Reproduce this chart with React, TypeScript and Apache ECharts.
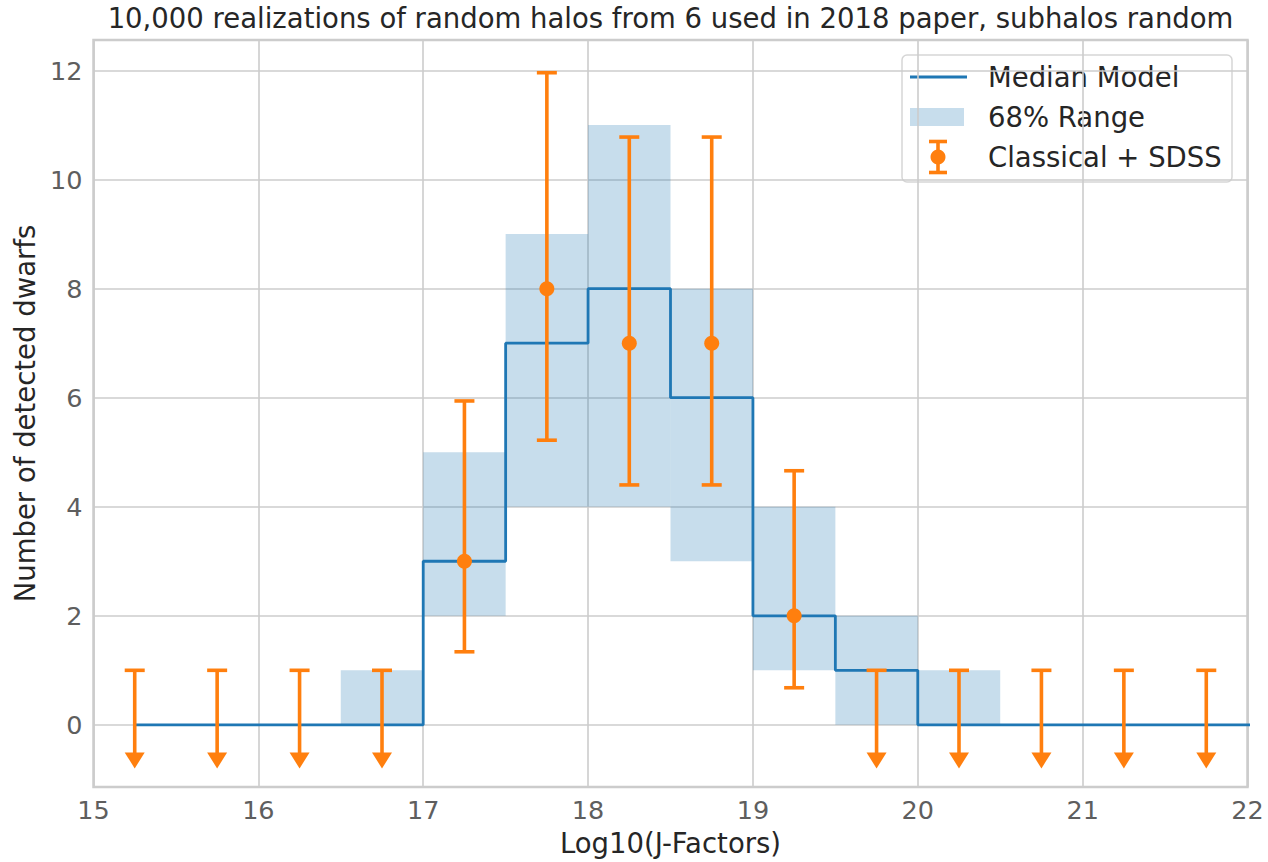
import React, { useEffect, useRef } from "react";
import * as echarts from "echarts";

const titleText =
  "10,000 realizations of random halos from 6 used in 2018 paper, subhalos random";
const xAxisName = "Log10(J-Factors)";
const yAxisName = "Number of detected dwarfs";

const binEdges = [15, 15.5, 16, 16.5, 17, 17.5, 18, 18.5, 19, 19.5, 20, 20.5, 21, 21.5, 22];
const medianCounts = [0, 0, 0, 0, 3, 7, 8, 6, 2, 1, 0, 0, 0, 0];
const rangeLow = [0, 0, 0, 0, 2, 4, 4, 3, 1, 0, 0, 0, 0, 0];
const rangeHigh = [0, 0, 0, 1, 5, 9, 11, 8, 4, 2, 1, 0, 0, 0];

const detectionX = [17.25, 17.75, 18.25, 18.75, 19.25];
const detectionCounts = [3, 8, 7, 7, 2];
const detectionLow = [1.34, 5.22, 4.4, 4.4, 0.68];
const detectionHigh = [5.94, 11.96, 10.78, 10.78, 4.66];

const upperLimitX = [15.25, 15.75, 16.25, 16.75, 19.75, 20.25, 20.75, 21.25, 21.75];
const upperLimitValues = [1, 1, 1, 1, 1, 1, 1, 1, 1];
const upperLimitArrowTip = -0.8;

const xTicks = [15, 16, 17, 18, 19, 20, 21, 22];
const yTicks = [0, 2, 4, 6, 8, 10, 12];

const legendLabels = ["Median Model", "68% Range", "Classical + SDSS"];

const BLUE = "#1f77b4";
const FILL = "rgba(31,119,180,0.25)";
const ORANGE = "#ff7f0e";
const FONT = "DejaVu Sans";

export default function App() {
  const ref = useRef<HTMLDivElement>(null);

  useEffect(() => {
    if (!ref.current) return;
    const chart = echarts.init(ref.current, undefined, { renderer: "svg" });

    const rangeData = medianCounts
      .map((_, i) => [binEdges[i], binEdges[i + 1], rangeLow[i], rangeHigh[i]])
      .filter((d) => d[3] > d[2]);

    const centers = medianCounts.map((_, i) => (binEdges[i] + binEdges[i + 1]) / 2);
    const medianData = centers.map((c, i) => [c, medianCounts[i]]);
    const halfBin = (binEdges[1] - binEdges[0]) / 2;
    medianData.push([binEdges[binEdges.length - 1] + halfBin, medianCounts[medianCounts.length - 1]]);

    const detData = detectionX.map((x, i) => [x, detectionCounts[i], detectionLow[i], detectionHigh[i]]);
    const ulData = upperLimitX.map((x, i) => [x, upperLimitValues[i], upperLimitArrowTip]);

    const capHalf = 10;
    const barW = 3.6;

    const lgX = 902;
    const lgY = 55;
    const rowY = [77, 117, 157];

    const option: any = {
      animation: false,
      backgroundColor: "#ffffff",
      title: {
        text: titleText,
        left: 670.5,
        textAlign: "center",
        top: 4,
        padding: 0,
        textStyle: { fontFamily: FONT, fontSize: 27.5, fontWeight: "normal", color: "#262626" },
      },
      grid: {
        left: 93.5,
        right: 20.5,
        top: 40,
        bottom: 72,
        show: true,
        borderColor: "#cccccc",
        borderWidth: 2.5,
        backgroundColor: "transparent",
      },
      xAxis: {
        type: "value",
        min: xTicks[0],
        max: xTicks[xTicks.length - 1],
        interval: 1,
        name: xAxisName,
        nameLocation: "middle",
        nameGap: 42,
        nameTextStyle: { fontFamily: FONT, fontSize: 27.5, color: "#262626" },
        axisLine: { show: false },
        axisTick: { show: false },
        axisLabel: { fontFamily: FONT, fontSize: 25.5, color: "#5e5e5e", margin: 10 },
        splitLine: { show: true, lineStyle: { color: "#cccccc", width: 1.6 } },
      },
      yAxis: {
        type: "value",
        min: -1.14,
        max: 12.56,
        name: yAxisName,
        nameLocation: "middle",
        nameGap: 53,
        nameTextStyle: { fontFamily: FONT, fontSize: 27.5, color: "#262626" },
        axisLine: { show: false },
        axisTick: { show: false, customValues: yTicks },
        axisLabel: { fontFamily: FONT, fontSize: 25.5, color: "#5e5e5e", margin: 11, customValues: yTicks },
        splitLine: { show: true, lineStyle: { color: "#cccccc", width: 1.6 } },
      },
      series: [
        {
          name: legendLabels[1],
          type: "custom",
          z: 2,
          data: rangeData,
          encode: { x: [0, 1], y: [2, 3] },
          renderItem: (params: any, api: any) => {
            const p0 = api.coord([api.value(0), api.value(3)]);
            const p1 = api.coord([api.value(1), api.value(2)]);
            return {
              type: "rect",
              shape: { x: p0[0], y: p0[1], width: p1[0] - p0[0], height: p1[1] - p0[1] },
              style: { fill: FILL },
            };
          },
        },
        {
          name: legendLabels[0],
          type: "line",
          z: 3,
          step: "middle",
          symbol: "none",
          data: medianData,
          lineStyle: { color: BLUE, width: 2.8 },
        },
        {
          name: legendLabels[2],
          type: "custom",
          z: 4,
          data: detData,
          encode: { x: 0, y: [1, 2, 3] },
          renderItem: (params: any, api: any) => {
            const c = api.coord([api.value(0), api.value(1)]);
            const lo = api.coord([api.value(0), api.value(2)]);
            const hi = api.coord([api.value(0), api.value(3)]);
            const st = { stroke: ORANGE, lineWidth: barW };
            return {
              type: "group",
              children: [
                { type: "line", shape: { x1: c[0], y1: lo[1], x2: c[0], y2: hi[1] }, style: st },
                { type: "line", shape: { x1: c[0] - capHalf, y1: lo[1], x2: c[0] + capHalf, y2: lo[1] }, style: st },
                { type: "line", shape: { x1: c[0] - capHalf, y1: hi[1], x2: c[0] + capHalf, y2: hi[1] }, style: st },
                { type: "circle", shape: { cx: c[0], cy: c[1], r: 7.5 }, style: { fill: ORANGE } },
              ],
            };
          },
        },
        {
          name: legendLabels[2] + " limits",
          type: "custom",
          z: 4,
          data: ulData,
          encode: { x: 0, y: [1, 2] },
          renderItem: (params: any, api: any) => {
            const top = api.coord([api.value(0), api.value(1)]);
            const tip = api.coord([api.value(0), api.value(2)]);
            const st = { stroke: ORANGE, lineWidth: barW };
            const headH = 16;
            const headW = 10;
            return {
              type: "group",
              children: [
                { type: "line", shape: { x1: top[0], y1: top[1], x2: top[0], y2: tip[1] - headH + 1 }, style: st },
                { type: "line", shape: { x1: top[0] - capHalf, y1: top[1], x2: top[0] + capHalf, y2: top[1] }, style: st },
                {
                  type: "polygon",
                  shape: {
                    points: [
                      [top[0] - headW, tip[1] - headH],
                      [top[0] + headW, tip[1] - headH],
                      [top[0], tip[1]],
                    ],
                  },
                  style: { fill: ORANGE },
                },
              ],
            };
          },
        },
      ],
      graphic: [
        {
          type: "group",
          z: 100,
          children: [
            {
              type: "rect",
              shape: { x: lgX, y: lgY, width: 330, height: 127, r: 5 },
              style: { fill: "rgba(255,255,255,0.8)", stroke: "#d6d6d6", lineWidth: 1.5 },
            },
            {
              type: "line",
              shape: { x1: 910, y1: rowY[0], x2: 967, y2: rowY[0] },
              style: { stroke: BLUE, lineWidth: 2.8 },
            },
            {
              type: "rect",
              shape: { x: 910, y: rowY[1] - 9, width: 54, height: 18 },
              style: { fill: FILL },
            },
            {
              type: "line",
              shape: { x1: 938, y1: rowY[2] - 15.5, x2: 938, y2: rowY[2] + 15.5 },
              style: { stroke: ORANGE, lineWidth: barW },
            },
            {
              type: "line",
              shape: { x1: 929, y1: rowY[2] - 15.5, x2: 947, y2: rowY[2] - 15.5 },
              style: { stroke: ORANGE, lineWidth: barW },
            },
            {
              type: "line",
              shape: { x1: 929, y1: rowY[2] + 15.5, x2: 947, y2: rowY[2] + 15.5 },
              style: { stroke: ORANGE, lineWidth: barW },
            },
            {
              type: "circle",
              shape: { cx: 938, cy: rowY[2], r: 7.5 },
              style: { fill: ORANGE },
            },
            ...legendLabels.map((t, i) => ({
              type: "text",
              x: 988,
              y: rowY[i],
              style: {
                text: t,
                fontFamily: FONT,
                fontSize: 27.5,
                fill: "#262626",
                textVerticalAlign: "middle",
                verticalAlign: "middle",
              },
            })),
          ],
        },
      ],
    };

    chart.setOption(option);
    return () => chart.dispose();
  }, []);

  return (
    <div
      ref={ref}
      style={{ position: "absolute", left: 0, top: 0, width: 1268, height: 862 }}
    />
  );
}
